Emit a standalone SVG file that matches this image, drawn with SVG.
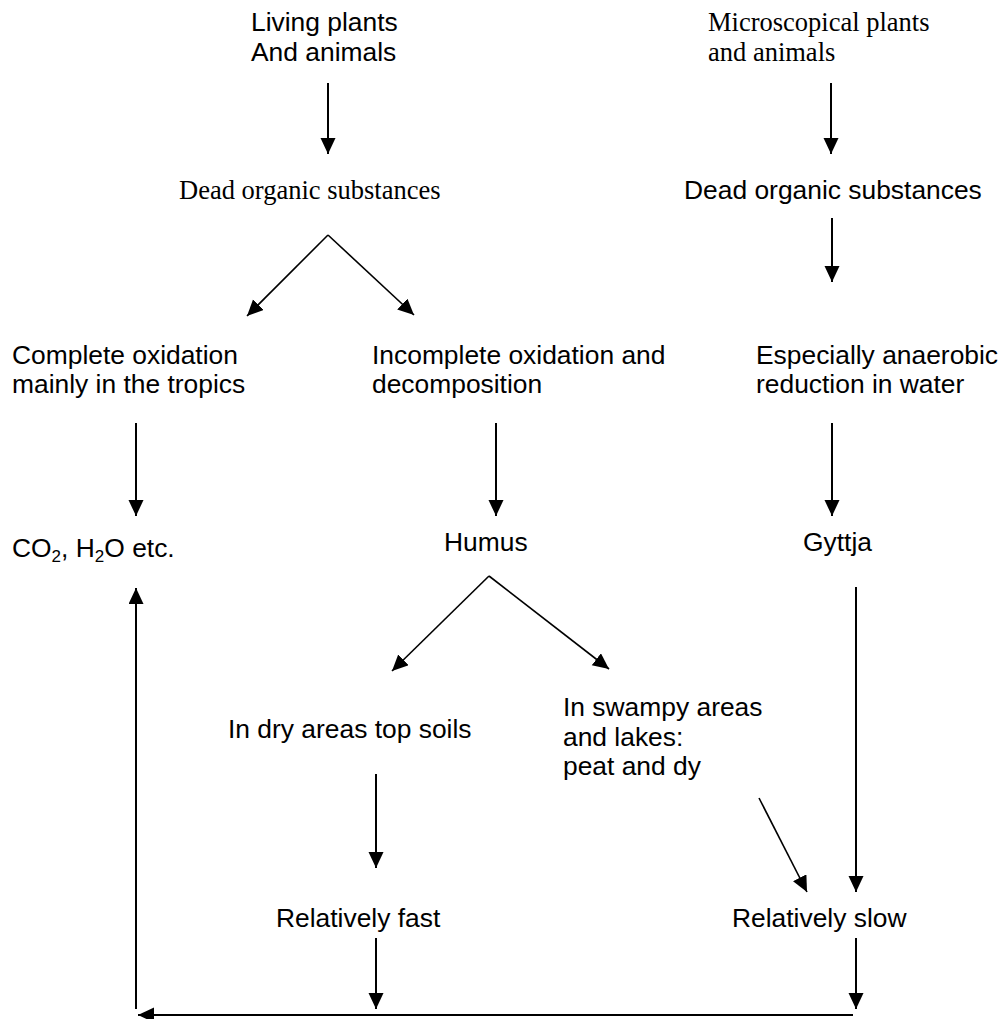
<svg xmlns="http://www.w3.org/2000/svg" width="1005" height="1019" viewBox="0 0 1005 1019">
  <style>
    .sans { font-family: "Liberation Sans", Arial, sans-serif; font-size: 26.4px; fill: #000; }
    .serif { font-family: "Liberation Serif", "Times New Roman", serif; font-size: 26.5px; fill: #000; }
    .link { stroke: #000; stroke-width: 2; fill: none; marker-end: url(#head); }
    .diag { stroke: #000; stroke-width: 1.6; fill: none; marker-end: url(#head); }
  </style>
  <defs>
    <marker id="head" markerUnits="userSpaceOnUse" markerWidth="16" markerHeight="16" refX="16" refY="7.5" orient="auto">
      <path d="M0,0 L16,7.5 L0,15 z" fill="#000"/>
    </marker>
  </defs>
  <rect width="1005" height="1019" fill="#fff"/>

  <g id="living">
    <text class="sans" x="251" y="31">Living plants</text>
    <text class="sans" x="251" y="61">And animals</text>
  </g>
  <g id="micro">
    <text class="serif" x="708" y="31">Microscopical plants</text>
    <text class="serif" x="708" y="61">and animals</text>
  </g>
  <g id="dead-left">
    <text class="serif" x="179" y="199">Dead organic substances</text>
  </g>
  <g id="dead-right">
    <text class="sans" x="684" y="199">Dead organic substances</text>
  </g>
  <g id="complete">
    <text class="sans" x="12" y="364">Complete oxidation</text>
    <text class="sans" x="12" y="393">mainly in the tropics</text>
  </g>
  <g id="incomplete">
    <text class="sans" x="372" y="364">Incomplete oxidation and</text>
    <text class="sans" x="372" y="393">decomposition</text>
  </g>
  <g id="anaerobic">
    <text class="sans" x="756" y="364">Especially anaerobic</text>
    <text class="sans" x="756" y="393">reduction in water</text>
  </g>
  <g id="co2">
    <text class="sans" x="12" y="557">CO<tspan font-size="17" dy="5">2</tspan><tspan dy="-5">, H</tspan><tspan font-size="17" dy="5">2</tspan><tspan dy="-5">O etc.</tspan></text>
  </g>
  <g id="humus">
    <text class="sans" x="444" y="551">Humus</text>
  </g>
  <g id="gyttja">
    <text class="sans" x="803" y="551">Gyttja</text>
  </g>
  <g id="dry">
    <text class="sans" x="228" y="738">In dry areas top soils</text>
  </g>
  <g id="swampy">
    <text class="sans" x="563" y="716">In swampy areas</text>
    <text class="sans" x="563" y="746">and lakes:</text>
    <text class="sans" x="563" y="775">peat and dy</text>
  </g>
  <g id="fast">
    <text class="sans" x="276" y="927">Relatively fast</text>
  </g>
  <g id="slow">
    <text class="sans" x="732" y="927">Relatively slow</text>
  </g>

  <g id="connectors">
    <line class="link" x1="328" y1="83" x2="328" y2="154"/>
    <line class="link" x1="831" y1="83" x2="831" y2="154"/>
    <line class="diag" x1="328" y1="235" x2="247" y2="316"/>
    <line class="diag" x1="328" y1="235" x2="414" y2="315"/>
    <line class="link" x1="832" y1="218" x2="832" y2="282"/>
    <line class="link" x1="136" y1="423" x2="136" y2="516"/>
    <line class="link" x1="496" y1="423" x2="496" y2="516"/>
    <line class="link" x1="832" y1="423" x2="832" y2="516"/>
    <line class="diag" x1="489" y1="576" x2="392" y2="671"/>
    <line class="diag" x1="489" y1="576" x2="609" y2="669"/>
    <line class="link" x1="376" y1="774" x2="376" y2="868"/>
    <line class="diag" x1="759" y1="798" x2="807" y2="892"/>
    <line class="link" x1="856" y1="587" x2="856" y2="892"/>
    <line class="link" x1="376" y1="938" x2="376" y2="1009"/>
    <line class="link" x1="856" y1="938" x2="856" y2="1009"/>
    <line class="link" x1="853" y1="1015" x2="138" y2="1015"/>
    <line class="link" x1="136" y1="1009" x2="136" y2="588"/>
  </g>
</svg>
